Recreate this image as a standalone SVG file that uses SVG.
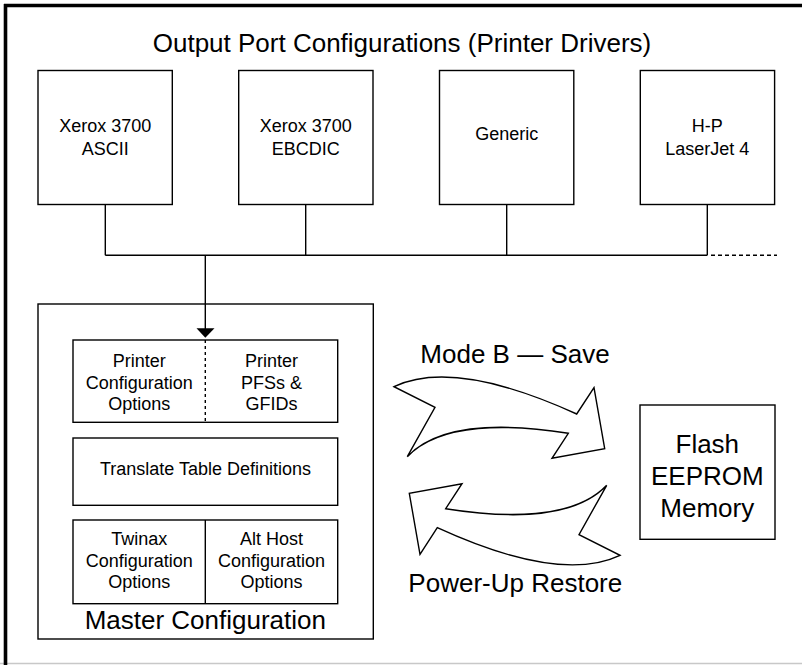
<svg xmlns="http://www.w3.org/2000/svg" width="802" height="665" viewBox="0 0 802 665">
<style>
.box{fill:#fff;stroke:#000;stroke-width:1.4}
.ln{fill:none;stroke:#000;stroke-width:1.4}
.dot{fill:none;stroke:#000;stroke-width:1.4;stroke-dasharray:4 3}
.sm{font-family:"Liberation Sans",Arial,sans-serif;font-size:18px;fill:#000;text-anchor:middle}
.lg{font-family:"Liberation Sans",Arial,sans-serif;font-size:26px;fill:#000;text-anchor:middle}
.arr{fill:#fff;stroke:#000;stroke-width:1.4;stroke-linejoin:miter}
</style>
<rect x="0" y="0" width="802" height="665" fill="#fff"/>
<g id="frame">
<line x1="0" y1="663.5" x2="802" y2="663.5" stroke="#c8c8c8" stroke-width="1.5"/>
<line x1="5.5" y1="4" x2="5.5" y2="665" stroke="#000" stroke-width="3.6"/>
<line x1="4" y1="5.5" x2="802" y2="5.5" stroke="#000" stroke-width="3.6"/>
</g>
<text id="title" class="lg" x="402" y="52">Output Port Configurations (Printer Drivers)</text>
<g id="xerox-ascii">
<rect class="box" x="38" y="70.5" width="134.3" height="134"/>
<text class="sm" x="105.3" y="132.3">Xerox 3700</text>
<text class="sm" x="105.3" y="155.3">ASCII</text>
</g>
<g id="xerox-ebcdic">
<rect class="box" x="238.7" y="70.5" width="134.3" height="134"/>
<text class="sm" x="305.7" y="132.3">Xerox 3700</text>
<text class="sm" x="305.7" y="155.3">EBCDIC</text>
</g>
<g id="generic">
<rect class="box" x="439.5" y="70.5" width="134.3" height="134"/>
<text class="sm" x="506.7" y="140">Generic</text>
</g>
<g id="hp-laserjet">
<rect class="box" x="640.3" y="70.5" width="134.3" height="134"/>
<text class="sm" x="707.3" y="132.3">H-P</text>
<text class="sm" x="707.3" y="155">LaserJet 4</text>
</g>
<g id="master-config">
<rect class="box" x="38" y="304" width="335.3" height="335"/>
<text class="lg" x="205.3" y="629.3">Master Configuration</text>
</g>
<g id="printer-options">
<rect class="box" x="73" y="340" width="264.7" height="82.3"/>
<line class="ln" x1="205.3" y1="340" x2="205.3" y2="422.3" stroke-dasharray="3 3"/>
<text class="sm" x="139.3" y="366.7">Printer</text>
<text class="sm" x="139.3" y="388.7">Configuration</text>
<text class="sm" x="139.3" y="410.3">Options</text>
<text class="sm" x="271.5" y="366.7">Printer</text>
<text class="sm" x="271.5" y="388.7">PFSs &amp;</text>
<text class="sm" x="271.5" y="410.3">GFIDs</text>
</g>
<g id="translate-table">
<rect class="box" x="73" y="438" width="264.7" height="67.3"/>
<text class="sm" x="205.5" y="475">Translate Table Definitions</text>
</g>
<g id="host-options">
<rect class="box" x="73" y="520" width="264.7" height="83.7"/>
<line class="ln" x1="205.3" y1="520" x2="205.3" y2="603.7"/>
<text class="sm" x="139.3" y="545">Twinax</text>
<text class="sm" x="139.3" y="566.7">Configuration</text>
<text class="sm" x="139.3" y="588.3">Options</text>
<text class="sm" x="271.5" y="545">Alt Host</text>
<text class="sm" x="271.5" y="566.7">Configuration</text>
<text class="sm" x="271.5" y="588.3">Options</text>
</g>
<g id="save-arrow">
<path class="arr" d="M394,386.7 C425,372 480,370 576.7,414 L594,387.7 L604.7,448.7 L552,458.3 L568.3,433.3 C510,424 440,422 407.3,456.7 L435,407.3 Z"/>
<text class="lg" x="515" y="362.7">Mode B — Save</text>
</g>
<g id="restore-arrow">
<path class="arr" d="M620,555.3 C589,570 534,572 437.3,527.7 L420,554.3 L409.3,493.3 L462,483.7 L445.7,508.7 C504,518 574,520 606.7,485.3 L579,534.7 Z"/>
<text class="lg" x="515.3" y="591.7">Power-Up Restore</text>
</g>
<g id="flash-eeprom">
<rect class="box" x="640" y="405" width="135" height="134.3"/>
<text class="lg" x="707.3" y="453.3">Flash</text>
<text class="lg" x="707.3" y="485">EEPROM</text>
<text class="lg" x="707.3" y="516.7">Memory</text>
</g>
<g id="connectors">
<path class="ln" d="M105.3,204.5 V255.3 M305.7,204.5 V255.3 M506.7,204.5 V255.3 M707.3,204.5 V255.3 M105.3,255.3 H707.3 M205.3,255.3 V329"/>
<line class="dot" x1="711" y1="255.3" x2="777" y2="255.3"/>
<polygon points="196.5,328.3 214.5,328.3 205.3,337.8" fill="#000"/>
</g>
</svg>
